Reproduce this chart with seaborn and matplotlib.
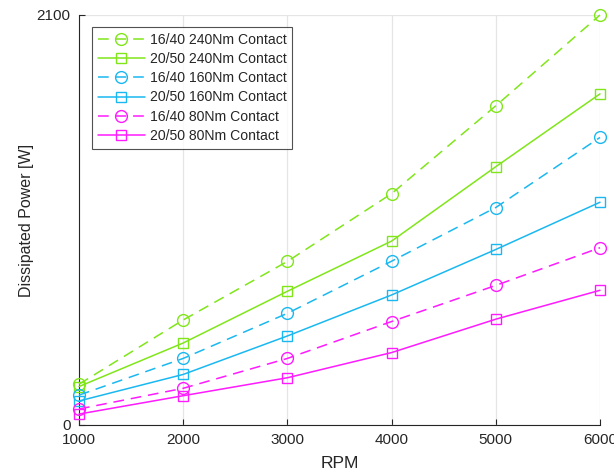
import matplotlib
matplotlib.use("Agg")
import matplotlib.pyplot as plt
import seaborn as sns
import pandas as pd

rpm = [1000, 2000, 3000, 4000, 5000, 6000]
p_1640_240 = [209, 538, 838, 1185, 1635, 2100]
p_2050_240 = [197, 420, 685, 942, 1323, 1696]
p_1640_160 = [153, 341, 572, 839, 1114, 1473]
p_2050_160 = [123, 259, 456, 666, 899, 1141]
p_1640_80 = [82, 188, 341, 530, 715, 908]
p_2050_80 = [56, 150, 242, 371, 542, 690]

labels = ["16/40 240Nm Contact", "20/50 240Nm Contact",
          "16/40 160Nm Contact", "20/50 160Nm Contact",
          "16/40 80Nm Contact", "20/50 80Nm Contact"]
series = [p_1640_240, p_2050_240, p_1640_160, p_2050_160, p_1640_80, p_2050_80]

green = "#80e61a"
blue = "#1ab8f0"
magenta = "#ff1aff"
colors = [green, green, blue, blue, magenta, magenta]
dashed = [True, False, True, False, True, False]
markers = ["o", "s", "o", "s", "o", "s"]

sns.set_theme(style="white")
plt.rcParams['font.family'] = ['Liberation Sans', 'DejaVu Sans']

fig = plt.figure(figsize=(6.14, 4.74), dpi=100)
ax = fig.add_axes([79/614, 49/474, 521/614, 410/474])

for lab, vals, c, d, m in zip(labels, series, colors, dashed, markers):
    df = pd.DataFrame({"rpm": rpm, "power": vals})
    kw = dict(color=c, marker=m, markerfacecolor="none", markeredgecolor=c,
              markeredgewidth=1.0, linewidth=1.1,
              markersize=8.5 if m == "o" else 6.5)
    sns.lineplot(data=df, x="rpm", y="power", ax=ax, label=lab, **kw)
    line = ax.lines[-1]
    line.set_clip_on(False)
    line.set_zorder(3)
    if d:
        line.set_dashes((7, 4.5))

ax.set_xlim(1000, 6000)
ax.set_ylim(0, 2100)
ax.set_xticks(rpm)
ax.set_yticks([0, 2100])
ax.tick_params(axis="both", direction="in", length=4, width=0.8, labelsize=11,
               colors="#262626", labelcolor="#262626", pad=6, bottom=True, left=True)
ax.grid(True, color="#e5e5e5", linewidth=0.9)
ax.set_axisbelow(True)
for s in ["top", "right"]:
    ax.spines[s].set_visible(False)
for s in ["left", "bottom"]:
    ax.spines[s].set_color("#262626")
    ax.spines[s].set_linewidth(0.8)

ax.set_xlabel("RPM", fontsize=12.5, color="#262626", labelpad=6)
ax.set_ylabel("Dissipated Power [W]", fontsize=11.5, color="#262626", labelpad=2)

leg = ax.legend(loc="upper left", bbox_to_anchor=(0.025, 0.971), borderaxespad=0,
                fontsize=10.1, handlelength=3.4, handletextpad=0.3, borderpad=0.4,
                labelspacing=0.38, frameon=True, fancybox=False)
leg.get_frame().set_edgecolor("#262626")
leg.get_frame().set_linewidth(0.8)
leg.set_zorder(5)

fig.savefig("out.png", dpi=100)
